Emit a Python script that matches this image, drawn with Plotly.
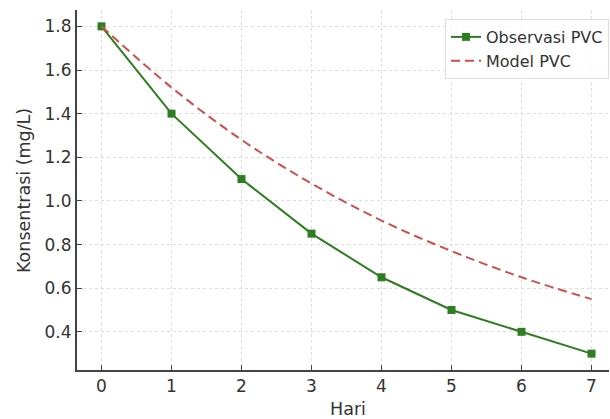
import plotly.graph_objects as go

hari = [0, 1, 2, 3, 4, 5, 6, 7]
observasi_pvc = [1.8, 1.4, 1.1, 0.85, 0.65, 0.5, 0.4, 0.3]
model_pvc = [1.8, 1.52, 1.28, 1.08, 0.91, 0.77, 0.65, 0.55]
y_ticks = [0.4, 0.6, 0.8, 1.0, 1.2, 1.4, 1.6, 1.8]
y_tick_labels = ["0.4", "0.6", "0.8", "1.0", "1.2", "1.4", "1.6", "1.8"]

green = "#2f7d22"
red = "#cf4f4c"

fig = go.Figure()
fig.add_trace(go.Scatter(
    x=hari, y=observasi_pvc, mode="lines+markers", name="Observasi PVC",
    line=dict(color=green, width=2),
    marker=dict(symbol="square", size=8, color=green),
))
fig.add_trace(go.Scatter(
    x=hari, y=model_pvc, mode="lines", name="Model PVC",
    line=dict(color=red, width=2, dash="9px,5px", shape="spline"),
))

font = "DejaVu Sans, sans-serif"
W, H = 610, 419
L, R, T, B = 77, 1, 10, 49
pw, ph = W - L - R, H - T - B

fig.update_layout(
    width=W, height=H,
    margin=dict(l=L, r=R, t=T, b=B),
    paper_bgcolor="white", plot_bgcolor="white",
    font=dict(family=font, color="#333333"),
    showlegend=True,
    legend=dict(
        x=1.0, y=0.975, xanchor="right", yanchor="top",
        bgcolor="rgba(255,255,255,0.85)", bordercolor="#dddddd", borderwidth=1,
        font=dict(size=16, color="#333333"),
        tracegroupgap=0, itemwidth=30,
    ),
    xaxis=dict(
        range=[-0.35, 7.25], tickvals=hari, ticktext=[str(h) for h in hari],
        tickfont=dict(size=17),
        showline=True, linecolor="#444444", linewidth=2,
        ticks="inside", ticklen=5, tickcolor="#444444",
        showgrid=True, gridcolor="#dddddd", griddash="dot", gridwidth=1,
        zeroline=False,
    ),
    yaxis=dict(
        range=[0.225, 1.875], tickvals=y_ticks, ticktext=y_tick_labels,
        tickfont=dict(size=17),
        showline=True, linecolor="#444444", linewidth=2,
        ticks="inside", ticklen=5, tickcolor="#444444",
        showgrid=True, gridcolor="#dddddd", griddash="dot", gridwidth=1,
        zeroline=False,
    ),
    annotations=[
        dict(text="Hari", xref="paper", yref="paper",
             x=(348 - L) / pw, y=-(409 - (H - B)) / ph,
             xanchor="center", yanchor="middle", showarrow=False,
             font=dict(size=17.5, color="#333333")),
        dict(text="Konsentrasi (mg/L)", xref="paper", yref="paper",
             x=(24 - L) / pw, y=((H - B) - 191) / ph, textangle=-90,
             xanchor="center", yanchor="middle", showarrow=False,
             font=dict(size=17.5, color="#333333")),
    ],
)

fig.write_html("out.html")
